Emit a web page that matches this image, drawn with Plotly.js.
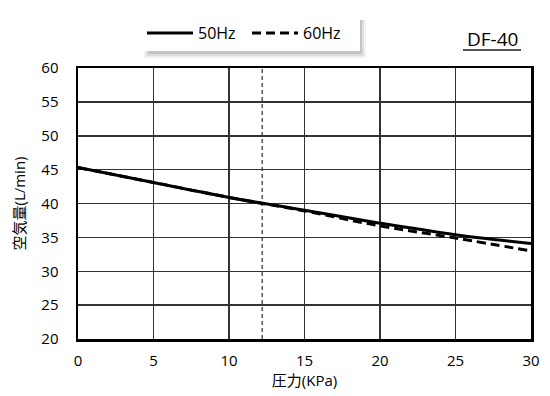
<!DOCTYPE html>
<html>
<head>
<meta charset="utf-8">
<script src="https://cdn.plot.ly/plotly-3.0.1.min.js"></script>
<style>html,body{margin:0;padding:0;background:#fff;}#chart{width:550px;height:396px;}</style>
</head>
<body>
<div id="chart"></div>
<script>
// Data
const pressure = [0, 5, 10, 15, 20, 25, 30];
const flow50Hz = [45.3, 43.1, 40.9, 39.0, 37.1, 35.4, 34.1];
const flow60Hz = [45.3, 43.1, 40.9, 38.9, 36.7, 34.9, 33.0];
const seriesNames = ['50Hz', '60Hz'];
const refPressure = 12.2;
const modelLabel = 'DF-40';

const FONT = '"Open Sans", "Noto Sans CJK JP", sans-serif';

const traces = [
  {x: pressure, y: flow50Hz, name: seriesNames[0], mode: 'lines', line: {color: '#000', width: 3, shape: 'spline'}},
  {x: pressure, y: flow60Hz, name: seriesNames[1], mode: 'lines', line: {color: '#000', width: 3, dash: '9px,5px', shape: 'spline'}}
];

// plot area: x 78..531 (453px), y 68..339 (271px)
const W = 453, H = 271, L = 78, T = 68;
const px = v => (v - L) / W;
const py = v => (T + H - v) / H;

const shadowRects = [];
const shadowLevels = [[0, 0.05], [2, 0.08], [4, 0.12]];
shadowLevels.forEach(([d, op]) => {
  shadowRects.push({type: 'rect', xref: 'paper', yref: 'paper', layer: 'above',
    x0: px(144 + d), x1: px(366 - d), y0: py(58 - d), y1: py(20),
    fillcolor: 'rgba(0,0,0,' + op + ')', line: {width: 0}});
});

const layout = {
  width: 550, height: 396,
  margin: {l: L, r: 550 - L - W, t: T, b: 396 - T - H},
  paper_bgcolor: '#fff', plot_bgcolor: '#fff',
  font: {family: FONT, color: '#000', size: 15},
  showlegend: true,
  legend: {orientation: 'h', x: px(142), y: py(16), xanchor: 'left', yanchor: 'top',
    bgcolor: 'rgba(0,0,0,0)', font: {size: 16, family: FONT}, itemwidth: 46,
    entrywidth: 44, entrywidthmode: 'pixels', tracegroupgap: 0},
  xaxis: {range: [0, 30], dtick: 5, tick0: 0, showgrid: true, gridcolor: '#333', gridwidth: 1.5,
    zeroline: false, showline: true, linecolor: '#000', linewidth: 2.5, mirror: true,
    ticks: '', tickfont: {size: 15}, ticklabelstandoff: 6, fixedrange: true,
    title: {text: '圧力(KPa)', font: {size: 15}, standoff: 6}},
  yaxis: {range: [20, 60], dtick: 5, tick0: 20, showgrid: true, gridcolor: '#333', gridwidth: 1.5,
    zeroline: false, showline: true, linecolor: '#000', linewidth: 2.5, mirror: true,
    ticks: '', tickfont: {size: 15}, ticklabelstandoff: 14, fixedrange: true,
    title: {text: '空気量(L/min)', font: {size: 15}, standoff: 12}},
  shapes: shadowRects.concat([
    {type: 'rect', xref: 'paper', yref: 'paper', layer: 'above',
      x0: px(141), x1: px(360), y0: py(51), y1: py(13), fillcolor: '#fff', line: {width: 0}},
    {type: 'line', xref: 'x', yref: 'paper', x0: refPressure, x1: refPressure, y0: 0, y1: 1,
      layer: 'below', line: {color: '#555', width: 1.5, dash: '4px,3px'}},
    {type: 'line', xref: 'paper', yref: 'paper', x0: px(463), x1: px(521), y0: py(50), y1: py(50),
      layer: 'above', line: {color: '#555', width: 2}}
  ]),
  annotations: [
    {text: modelLabel, xref: 'paper', yref: 'paper', x: px(492), y: py(54), xanchor: 'center', yanchor: 'bottom',
      showarrow: false, font: {size: 19, family: FONT}}
  ]
};

Plotly.newPlot('chart', traces, layout, {displayModeBar: false, staticPlot: true});
</script>
</body>
</html>
